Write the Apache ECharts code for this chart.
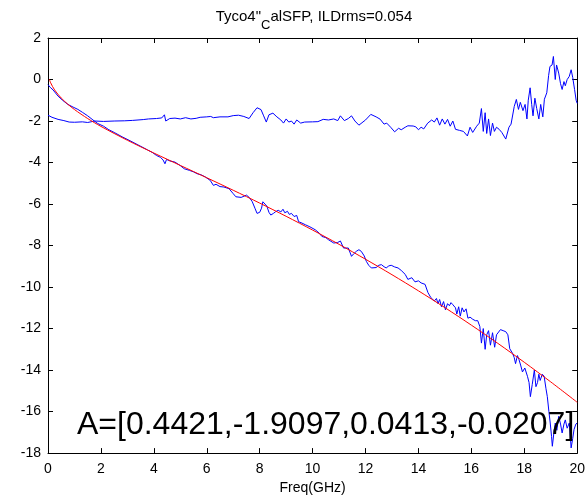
<!DOCTYPE html>
<html>
<head>
<meta charset="utf-8">
<script src="https://cdn.jsdelivr.net/npm/echarts@6/dist/echarts.min.js"></script>
<style>html,body{margin:0;padding:0;background:#fff}#c{width:588px;height:500px}</style>
</head>
<body>
<div id="c"></div>
<script>
// Tick labels
var xTicks = [0, 2, 4, 6, 8, 10, 12, 14, 16, 18, 20];
var yTicks = [-18, -16, -14, -12, -10, -8, -6, -4, -2, 0, 2];

// Measured insertion loss (lower blue curve)
var ilFreq = [0,0.1,0.19,0.38,0.55,0.75,0.95,1.13,1.3,1.5,1.7,1.88,2.1,2.3,2.5,2.8,3.1,3.4,3.76,3.95,4.1,4.25,4.35,4.42,4.48,4.6,4.8,5.0,5.15,5.35,5.5,5.64,5.8,5.95,6.13,6.25,6.35,6.5,6.65,6.84,7.0,7.1,7.3,7.5,7.62,7.72,7.82,7.9,8.0,8.07,8.12,8.2,8.27,8.35,8.42,8.52,8.6,8.7,8.8,8.88,8.95,9.05,9.12,9.2,9.3,9.4,9.47,9.6,9.73,9.9,10.1,10.25,10.35,10.5,10.6,10.8,10.95,11.05,11.17,11.35,11.47,11.55,11.65,11.75,11.84,11.95,12.03,12.12,12.22,12.4,12.5,12.6,12.7,12.78,12.88,12.97,13.1,13.23,13.35,13.5,13.6,13.75,13.87,14.0,14.1,14.25,14.36,14.47,14.6,14.68,14.74,14.8,14.87,14.95,15.02,15.1,15.17,15.23,15.3,15.4,15.45,15.52,15.58,15.65,15.72,15.8,15.87,15.95,16.05,16.15,16.24,16.32,16.38,16.45,16.52,16.58,16.65,16.72,16.8,16.88,16.95,17.02,17.1,17.2,17.3,17.38,17.45,17.56,17.62,17.67,17.74,17.8,17.87,17.93,18.02,18.12,18.18,18.23,18.3,18.38,18.44,18.5,18.55,18.6,18.68,18.75,18.82,18.87,18.93,18.98,19.03,19.06,19.12,19.17,19.23,19.3,19.37,19.43,19.5,19.55,19.62,19.7,19.74,19.77,19.83,19.88,19.95,20.0];
var ilVals = [-0.25,-0.4,-0.5,-0.8,-1.0,-1.2,-1.33,-1.44,-1.58,-1.75,-1.95,-2.12,-2.25,-2.42,-2.55,-2.76,-2.95,-3.15,-3.39,-3.52,-3.66,-3.75,-3.88,-4.06,-3.85,-3.92,-3.98,-4.15,-4.3,-4.38,-4.45,-4.54,-4.6,-4.7,-4.86,-5.1,-5.05,-5.16,-5.18,-5.26,-5.5,-5.65,-5.68,-5.57,-5.7,-5.89,-6.2,-6.45,-6.4,-6.2,-5.89,-6.0,-6.1,-6.4,-6.53,-6.45,-6.37,-6.3,-6.38,-6.25,-6.42,-6.35,-6.5,-6.45,-6.6,-6.55,-6.85,-6.92,-7.0,-7.1,-7.24,-7.4,-7.56,-7.62,-7.72,-7.88,-7.85,-7.78,-8.12,-8.12,-8.52,-8.4,-8.28,-8.2,-8.28,-8.5,-8.76,-8.95,-9.08,-9.06,-8.95,-8.92,-9.02,-9.08,-8.98,-8.95,-9.03,-9.08,-9.2,-9.39,-9.63,-9.55,-9.75,-9.7,-9.8,-9.87,-10.27,-10.51,-10.67,-10.55,-10.8,-10.6,-10.95,-10.7,-11.1,-10.8,-10.9,-10.75,-10.85,-11.0,-11.3,-10.95,-11.4,-11.0,-11.2,-11.05,-11.5,-11.45,-11.55,-11.62,-11.62,-11.9,-12.7,-12.0,-13.0,-12.3,-12.1,-12.8,-12.2,-12.9,-12.3,-12.26,-12.05,-12.1,-12.15,-12.3,-12.97,-13.2,-13.4,-13.69,-13.3,-13.5,-13.8,-14.09,-13.9,-14.3,-14.6,-15.28,-14.7,-14.0,-14.8,-14.6,-14.2,-14.5,-14.2,-14.3,-14.9,-15.28,-16.0,-16.55,-17.2,-17.67,-17.0,-16.55,-16.9,-16.23,-16.6,-17.03,-16.6,-16.4,-16.8,-16.55,-17.2,-17.75,-17.3,-16.86,-16.6,-16.55];

// Deviation curve (upper blue curve)
var devFreq = [0,0.15,0.38,0.6,0.8,1.0,1.3,1.5,1.77,2.1,2.5,2.9,3.2,3.6,3.8,4.1,4.3,4.4,4.45,4.6,4.8,5.0,5.2,5.4,5.6,5.75,6.0,6.15,6.2,6.25,6.5,6.8,7.0,7.2,7.4,7.6,7.75,7.9,8.05,8.15,8.25,8.35,8.5,8.65,8.8,8.9,9.0,9.1,9.2,9.3,9.4,9.55,9.7,10.0,10.2,10.4,10.6,10.8,10.95,11.05,11.2,11.35,11.47,11.6,11.75,12.0,12.2,12.4,12.55,12.7,12.8,12.95,13.1,13.25,13.35,13.5,13.6,13.8,13.9,14.0,14.1,14.2,14.35,14.5,14.6,14.7,14.8,14.9,15.0,15.1,15.2,15.3,15.4,15.55,15.7,15.85,15.95,16.05,16.2,16.3,16.38,16.45,16.52,16.58,16.65,16.72,16.8,16.87,16.95,17.05,17.15,17.3,17.42,17.5,17.62,17.7,17.78,17.85,17.95,18.03,18.1,18.15,18.22,18.28,18.33,18.4,18.47,18.55,18.62,18.7,18.76,18.85,18.92,18.97,19.05,19.1,19.17,19.22,19.3,19.37,19.43,19.5,19.55,19.62,19.7,19.77,19.83,19.9,19.96,20.0];
var devVals = [-1.72,-1.82,-1.92,-1.98,-2.05,-2.06,-2.04,-2.07,-2.0,-2.02,-2.0,-1.99,-1.97,-1.93,-1.9,-1.88,-1.85,-1.7,-2.0,-1.88,-1.86,-1.9,-1.84,-1.9,-1.87,-1.82,-1.8,-1.78,-1.7,-1.84,-1.8,-1.8,-1.74,-1.72,-1.78,-1.88,-1.6,-1.36,-1.45,-1.75,-2.05,-1.7,-1.62,-1.8,-1.95,-2.1,-1.9,-2.05,-2.0,-2.15,-1.95,-2.1,-2.05,-2.04,-2.03,-1.92,-1.95,-1.9,-1.98,-1.75,-1.98,-1.88,-1.75,-2.0,-2.2,-1.95,-1.68,-1.8,-1.91,-2.15,-2.1,-2.3,-2.52,-2.35,-2.42,-2.3,-2.23,-2.24,-2.28,-2.42,-2.3,-2.38,-2.1,-1.95,-2.05,-1.85,-2.2,-1.9,-2.15,-1.92,-2.25,-2.0,-2.4,-2.45,-2.5,-2.72,-2.3,-2.55,-2.25,-2.1,-1.4,-2.5,-1.6,-2.6,-1.9,-2.7,-2.1,-2.5,-2.3,-2.4,-2.55,-2.87,-2.3,-2.15,-1.3,-0.96,-1.44,-1.1,-1.5,-1.2,-1.9,-1.0,-0.4,-1.2,-1.75,-0.9,-1.4,-1.9,-1.2,-1.8,-0.95,-0.64,0.2,0.63,0.7,1.11,0.0,0.7,0.31,-0.2,-0.48,-0.1,-0.3,0.0,0.15,0.47,0.1,-0.48,-1.0,-1.15];

// Fitted curve (red), values read along the plotted fit
var fitFreq = [0.05,0.1,0.25,0.5,0.75,1,1.5,2,3,4,5,6,7,8,9,10,11,12,13,14,15,16,17,18,19,20];
var fitVals = [0.017,-0.158,-0.504,-0.893,-1.192,-1.447,-1.881,-2.259,-2.928,-3.543,-4.139,-4.733,-5.336,-5.954,-6.592,-7.254,-7.942,-8.659,-9.405,-10.182,-10.992,-11.835,-12.712,-13.624,-14.570,-15.552];

var titleParts = ['Tyco4"', 'C', 'alSFP, ILDrms=0.054'];
var annotation = 'A=[0.4421,-1.9097,0.0413,-0.0207]';
var xName = 'Freq(GHz)';

function zip(a, b) { return a.map(function (v, i) { return [v, b[i]]; }); }

var FONT = 'Liberation Sans, Arial, sans-serif';
var axisCommon = {
  axisLine: { show: true, onZero: false, lineStyle: { color: '#000', width: 1 } },
  axisTick: { show: true, inside: true, length: 5, lineStyle: { color: '#000' } },
  splitLine: { show: false }
};

var chart = echarts.init(document.getElementById('c'), null, { renderer: 'canvas' });
chart.setOption({
  animation: false,
  backgroundColor: '#fff',
  grid: { left: 48, right: 8, top: 38, bottom: 43 },
  xAxis: [
    Object.assign({
      type: 'value', min: xTicks[0], max: xTicks[xTicks.length - 1], interval: 2,
      axisLabel: { color: '#000', fontSize: 14, fontFamily: FONT, margin: 9 },
      name: xName, nameLocation: 'middle', nameGap: 27,
      nameTextStyle: { color: '#000', fontSize: 14, fontFamily: FONT }
    }, axisCommon),
    Object.assign({
      type: 'value', position: 'top', min: xTicks[0], max: xTicks[xTicks.length - 1], interval: 2,
      axisLabel: { show: false }
    }, axisCommon)
  ],
  yAxis: [
    Object.assign({
      type: 'value', min: yTicks[0], max: yTicks[yTicks.length - 1], interval: 2,
      axisLabel: { color: '#000', fontSize: 14, fontFamily: FONT, margin: 7 }
    }, axisCommon),
    Object.assign({
      type: 'value', position: 'right', min: yTicks[0], max: yTicks[yTicks.length - 1], interval: 2,
      axisLabel: { show: false }
    }, axisCommon)
  ],
  graphic: [
    {
      type: 'text', x: 314, y: 9, z: 100,
      style: {
        text: '{n|' + titleParts[0] + '}{s|' + titleParts[1] + '}{n|' + titleParts[2] + '}',
        align: 'center', verticalAlign: 'top',
        rich: {
          n: { fontSize: 15, fontFamily: FONT, fill: '#000', color: '#000', lineHeight: 16, verticalAlign: 'top' },
          s: { fontSize: 13, fontFamily: FONT, fill: '#000', color: '#000', lineHeight: 23, verticalAlign: 'bottom' }
        }
      }
    },
    {
      type: 'text', x: 77, y: 425, z: 100,
      style: {
        text: annotation, fill: '#000', fontSize: 32, fontFamily: FONT,
        align: 'left', verticalAlign: 'middle'
      }
    }
  ],
  series: [
    {
      type: 'line', data: zip(devFreq, devVals), showSymbol: false, symbol: 'none',
      lineStyle: { color: '#0000ff', width: 1 }, itemStyle: { color: '#0000ff' }, z: 3
    },
    {
      type: 'line', data: zip(ilFreq, ilVals), showSymbol: false, symbol: 'none',
      lineStyle: { color: '#0000ff', width: 1 }, itemStyle: { color: '#0000ff' }, z: 3
    },
    {
      type: 'line', data: zip(fitFreq, fitVals), showSymbol: false, symbol: 'none', smooth: 0.3,
      lineStyle: { color: '#ff0000', width: 1 }, itemStyle: { color: '#ff0000' }, z: 4
    }
  ]
});
</script>
</body>
</html>
